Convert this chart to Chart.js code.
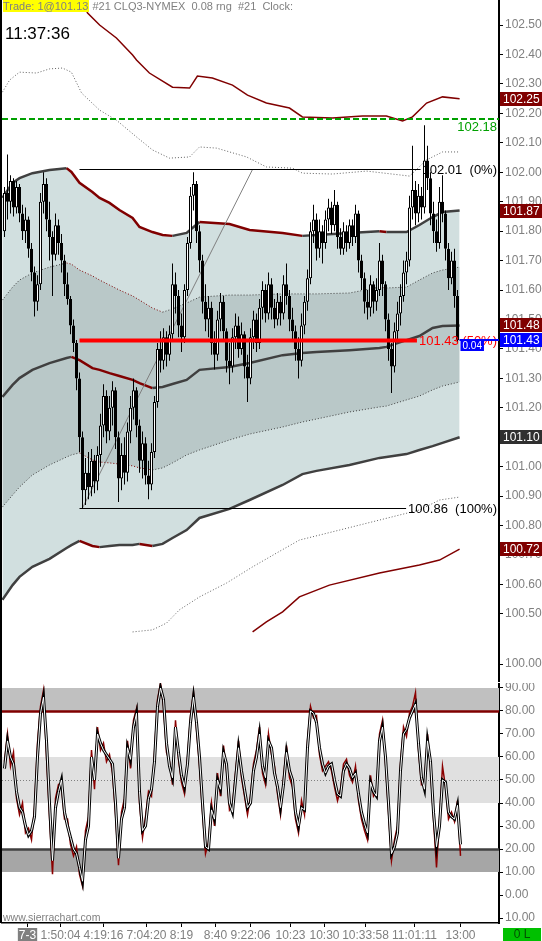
<!DOCTYPE html>
<html>
<head>
<meta charset="utf-8">
<script src="https://cdn.jsdelivr.net/npm/chart.js@4.4.0/dist/chart.umd.min.js"></script>
<style>
  html, body { margin: 0; padding: 0; background: #fff; }
  body { width: 542px; height: 941px; position: relative; overflow: hidden;
         font-family: "Liberation Sans", Arial, sans-serif; }
  #priceWrap { position: absolute; left: 0; top: 0; }
  #oscWrap { position: absolute; left: 0; top: 683px; }
  #leftEdge { position: absolute; left: 0; top: 0; width: 2px; height: 923px; background: #000; }
  #header { position: absolute; left: 3px; top: 0; font-size: 11px; line-height: 13px; color: #808080; white-space: pre; }
  #header .trade { background: #ffff00; padding-right: 1px; }
  #clock { position: absolute; left: 5px; top: 25px; font-size: 17px; line-height: 17px; color: #000; }
  #site { position: absolute; left: 3px; top: 911px; font-size: 10.5px; line-height: 12px; color: #808080; }
  #status { position: absolute; left: 503px; top: 928px; width: 38px; height: 13px; background: #00c000;
            color: #005000; font-size: 12px; line-height: 13px; text-align: center; }
</style>
</head>
<body>
<div id="priceWrap"><canvas id="price" width="542" height="682"></canvas></div>
<div id="oscWrap"><canvas id="osc" width="542" height="258"></canvas></div>
<div id="leftEdge"></div>
<div id="header"><span class="trade">Trade: 1@101.13</span> #21 CLQ3-NYMEX  0.08 rng  #21  Clock:</div>
<div id="clock">11:37:36</div>
<div id="site">www.sierrachart.com</div>
<div id="status">0 L</div>
<script>
// range bars, one per slot
const candleOpen = [
  101.80,101.93,101.90,101.97,101.88,101.95,101.86,101.80,101.84,101.74,101.66,101.56,101.62,101.90,101.96,101.84,
  101.78,101.72,101.82,101.76,101.70,101.62,101.57,101.48,101.42,101.30,101.10,100.92,100.98,100.93,101.02,100.95,
  101.04,101.14,101.24,101.12,101.20,101.26,101.10,100.96,101.04,100.98,101.12,101.20,101.26,101.14,101.02,101.08,
  100.97,100.94,101.05,101.22,101.40,101.36,101.44,101.38,101.45,101.62,101.58,101.48,101.44,101.60,101.76,101.92,
  101.96,101.80,101.70,101.56,101.50,101.54,101.42,101.38,101.50,101.56,101.46,101.36,101.34,101.44,101.48,101.40,
  101.45,101.34,101.30,101.44,101.50,101.42,101.54,101.60,101.52,101.62,101.54,101.50,101.56,101.52,101.62,101.58,
  101.50,101.46,101.40,101.36,101.48,101.56,101.64,101.80,101.84,101.74,101.80,101.76,101.84,101.88,101.82,101.89,
  101.78,101.74,101.80,101.76,101.82,101.78,101.86,101.70,101.64,101.56,101.54,101.62,101.56,101.60,101.70,101.62,
  101.50,101.40,101.34,101.46,101.52,101.58,101.66,101.70,101.88,101.94,101.86,101.92,101.88,102.04,101.98,101.86,
  101.80,101.76,101.90,101.86,101.74,101.64,101.70,101.58];
const candleHigh = [
  101.95,102.06,101.99,101.98,101.97,101.96,101.89,101.88,101.85,101.76,101.68,101.65,101.93,102.00,101.98,101.90,
  101.80,101.86,101.84,101.79,101.72,101.66,101.58,101.50,101.43,101.32,101.12,101.03,101.05,101.06,101.04,101.07,
  101.18,101.28,101.26,101.24,101.29,101.27,101.12,101.08,101.10,101.15,101.24,101.30,101.27,101.16,101.12,101.10,
  101.02,101.08,101.24,101.42,101.46,101.47,101.46,101.48,101.69,101.66,101.60,101.52,101.62,101.78,101.95,102.00,
  101.97,101.82,101.72,101.62,101.58,101.56,101.46,101.53,101.59,101.58,101.47,101.42,101.47,101.52,101.51,101.49,
  101.46,101.38,101.47,101.53,101.52,101.57,101.63,101.62,101.66,101.64,101.57,101.59,101.58,101.65,101.69,101.60,
  101.54,101.48,101.44,101.52,101.58,101.67,101.83,101.89,101.86,101.84,101.82,101.87,101.91,101.90,101.94,101.90,
  101.81,101.83,101.82,101.84,101.84,101.89,101.87,101.72,101.66,101.60,101.65,101.63,101.64,101.76,101.72,101.63,
  101.52,101.42,101.49,101.56,101.62,101.70,101.73,101.92,102.09,101.97,101.96,101.95,102.16,102.09,102.00,101.90,
  101.84,101.95,101.99,101.87,101.76,101.73,101.74,101.60];
const candleLow = [
  101.78,101.84,101.86,101.85,101.86,101.83,101.77,101.76,101.71,101.63,101.51,101.53,101.60,101.86,101.80,101.70,
  101.58,101.70,101.72,101.66,101.58,101.55,101.45,101.39,101.26,101.05,100.86,100.87,100.89,100.90,100.91,100.92,
  101.00,101.10,101.08,101.09,101.14,101.06,100.88,100.92,100.94,100.95,101.08,101.16,101.10,100.98,100.96,100.94,
  100.89,100.92,101.03,101.20,101.32,101.33,101.34,101.36,101.43,101.52,101.44,101.39,101.42,101.58,101.74,101.87,
  101.76,101.66,101.52,101.46,101.44,101.38,101.33,101.36,101.46,101.43,101.32,101.28,101.32,101.40,101.37,101.38,
  101.30,101.22,101.28,101.40,101.39,101.40,101.50,101.49,101.50,101.50,101.47,101.48,101.48,101.50,101.55,101.46,
  101.43,101.36,101.30,101.34,101.45,101.53,101.62,101.76,101.70,101.71,101.69,101.74,101.80,101.79,101.80,101.74,
  101.72,101.72,101.73,101.74,101.75,101.76,101.66,101.60,101.52,101.50,101.51,101.52,101.53,101.58,101.58,101.46,
  101.36,101.25,101.32,101.43,101.48,101.56,101.62,101.68,101.84,101.82,101.83,101.84,101.86,101.94,101.82,101.76,
  101.73,101.74,101.83,101.70,101.60,101.62,101.54,101.42];
const candleClose = [
  101.93,101.90,101.97,101.88,101.95,101.86,101.80,101.84,101.74,101.66,101.56,101.62,101.90,101.96,101.84,101.78,
  101.72,101.82,101.76,101.70,101.62,101.57,101.48,101.42,101.30,101.10,100.92,100.98,100.93,101.02,100.95,101.04,
  101.14,101.24,101.12,101.20,101.26,101.10,100.96,101.04,100.98,101.12,101.20,101.26,101.14,101.02,101.08,100.97,
  100.94,101.05,101.22,101.40,101.36,101.44,101.38,101.45,101.62,101.58,101.48,101.44,101.60,101.76,101.92,101.96,
  101.80,101.70,101.56,101.50,101.54,101.42,101.38,101.50,101.56,101.46,101.36,101.34,101.44,101.48,101.40,101.45,
  101.34,101.30,101.44,101.50,101.42,101.54,101.60,101.52,101.62,101.54,101.50,101.56,101.52,101.62,101.58,101.50,
  101.46,101.40,101.36,101.48,101.56,101.64,101.80,101.84,101.74,101.80,101.76,101.84,101.88,101.82,101.89,101.78,
  101.74,101.80,101.76,101.82,101.78,101.86,101.70,101.64,101.56,101.54,101.62,101.56,101.60,101.70,101.62,101.50,
  101.40,101.34,101.46,101.52,101.58,101.66,101.70,101.88,101.94,101.86,101.92,101.88,102.04,101.98,101.86,101.80,
  101.76,101.90,101.86,101.74,101.64,101.70,101.58,101.43];

// band lines sampled at bar index knots
const bandIdx = [-0.7,2.7,5,9.3,15,20.7,22.3,25,29.3,31.7,35,38.3,42.7,45,49.3,52.7,56,60.7,65,75,81.7,92.7,99.3,104,115,125,127.3,134,138.3,142.7,146,151.7];
const outerUpper = [101.913,101.964,101.980,101.997,102.008,102.014,102.001,101.964,101.933,101.913,101.896,101.872,101.845,101.814,101.797,101.787,101.784,101.794,101.831,101.824,101.804,101.794,101.784,101.787,101.794,101.800,101.797,101.797,101.821,101.848,101.865,101.87];
const innerUpper = [101.566,101.610,101.634,101.658,101.678,101.692,101.688,101.668,101.648,101.634,101.617,101.600,101.580,101.566,101.539,101.525,101.536,101.556,101.576,101.583,101.583,101.587,101.587,101.587,101.590,101.610,101.607,101.610,101.634,101.658,101.668,101.678];
const midLine = [101.237,101.278,101.301,101.329,101.352,101.369,101.373,101.362,101.335,101.329,101.318,101.308,101.295,101.284,101.267,101.271,101.281,101.295,101.329,101.339,101.352,101.379,101.386,101.390,101.396,101.403,101.407,101.430,101.444,101.471,101.478,101.48];
const innerLower = [100.863,100.904,100.931,100.972,101.006,101.033,101.040,101.047,101.023,101.016,101.013,101.009,101.003,100.996,100.989,100.996,101.013,101.040,101.057,101.091,101.111,101.135,101.152,101.162,101.186,101.203,101.206,101.227,101.240,101.261,101.274,101.288];
const outerLower = [100.548,100.598,100.626,100.660,100.687,100.724,100.734,100.748,100.731,100.727,100.731,100.734,100.734,100.738,100.731,100.738,100.758,100.785,100.826,100.857,100.887,100.938,100.975,100.986,101.006,101.030,101.033,101.043,101.057,101.070,101.081,101.10];

const band3UpperIdx = [-0.7,1.7,5,10.7,15,19.3,22.3,25.7,31.7,37.3,44,49.3,55,61.7,65,70.7,80.7,87.3,96,99.3,109.3,120.7,131.7,135,140.7,146,151.7];
const band3Upper = [102.272,102.313,102.340,102.337,102.351,102.354,102.340,102.269,102.211,102.177,102.120,102.076,102.048,102.052,102.086,102.082,102.052,102.018,102.014,101.997,101.994,102.004,101.991,101.987,102.042,102.069,102.069];
const band4UpperIdx = [25,27.7,31.7,37.3,42.7,44,48.3,56,61.7,64.3,69.3,76,81,87.3,95,99.3,109.3,119.3,127.3,132.7,136,140.7,146,151.7];
const band4Upper = [102.602,102.541,102.500,102.456,102.398,102.381,102.337,102.289,102.286,102.327,102.320,102.296,102.262,102.235,102.218,102.188,102.184,102.191,102.191,102.174,102.188,102.235,102.256,102.25];
const band3LowerIdx = [42.7,49.3,54,58.3,65,74,82.7,90.7,98.3,111.7,125,138.3,145,151.7];
const band3Lower = [100.439,100.446,100.469,100.514,100.558,100.605,100.660,100.707,100.751,100.785,100.819,100.853,100.887,100.897];
const band4LowerIdx = [82.7,87.3,92.7,98.3,108.3,125,138.3,145,151.7];
const band4Lower = [100.439,100.473,100.507,100.558,100.598,100.639,100.666,100.683,100.72];

// retracement drawing
const fibStartIdx = 25;
const fibLevels = [102.01, 101.43, 100.86];
const fibLabels = ['102.01  (0%)', '101.43 (50%)', '100.86  (100%)'];
const fibDiagIdx = [26, 82.7];
const fibDiagVal = [100.86, 102.01];
const greenLevel = 102.18;
const lastChange = '0.04';

const priceTickValues = [102.5,102.4,102.3,102.2,102.1,102.0,101.9,101.8,101.7,101.6,101.5,101.4,101.3,101.2,101.1,101.0,100.9,100.8,100.7,100.6,100.5,100.33];
const priceTickLabels = ['102.50','102.40','102.30','102.20','102.10','102.00','101.90','101.80','101.70','101.60','101.50','101.40','101.30','101.20','101.10','101.00','100.90','100.80','100.70','100.60','100.50','100.00'];

// oscillator
const oscK = [
  55,67,60,57,45,38,36,30,26,28,34,60,79,86,67,40,
  15,38,45,50,36,30,25,20,18,12,6,24,30,60,50,70,
  66,63,61,59,57,40,16,33,38,64,59,73,79,45,28,30,
  42,46,58,82,90,85,66,56,51,73,62,52,47,57,75,86,
  75,60,40,21,20,37,33,50,46,62,57,40,36,50,64,54,
  46,38,40,54,60,70,56,51,67,64,53,47,38,48,62,54,
  50,36,30,38,37,64,80,79,75,64,57,53,56,57,50,44,
  43,54,57,55,51,53,44,36,31,27,49,45,43,67,73,60,
  40,18,21,27,54,70,72,77,80,83,66,51,46,67,58,36,
  21,30,50,49,36,34,33,39,22];
const oscD = [
  58,70,56,62,42,35,40,27,29,24,38,66,82,89,60,34,
  9,42,48,47,33,33,22,17,21,9,4,28,34,63,46,73,
  63,66,58,61,53,35,13,36,42,67,55,76,81,40,25,34,
  45,43,62,85,92,82,62,58,48,76,59,49,44,60,78,88,
  72,56,36,18,23,40,30,53,43,65,54,37,39,53,67,51,
  43,35,43,57,63,73,53,48,70,61,56,44,35,51,65,51,
  47,33,27,41,35,67,82,77,78,61,54,56,58,54,47,41,
  46,57,59,52,49,56,41,33,28,24,52,43,45,70,76,57,
  36,15,24,30,57,73,69,79,82,88,63,48,49,70,55,33,
  12,33,56,47,33,36,32,41,17];
const oscZoneLow = [80, 40, 10];
const oscZoneHigh = [90, 60, 20];
const oscLevels = [80, 50, 20];
const oscTickValues = [90,80,70,60,50,40,30,20,10,0,-10];
const oscTickLabels = ['90.00','80.00','70.00','60.00','50.00','40.00','30.00','20.00','10.00','0.00','10.00'];

const timeTickIdx = [7.67, 18.67, 33, 47.33, 59, 70.33, 82, 95.33, 106.67, 120.33, 136.67, 152];
const timeLabels = ['7-3','1:50:04','4:19:16','7:04:20','8:19','8:40','9:22:06','10:23','10:30','10:33:58','11:01:11','13:00'];

// ---------------------------------------------------------------
const FONT = '"Liberation Sans", Arial, sans-serif';
const MAROON = '#800000';
const DARK = '#404040';
const xMin = -5 / 6;
const xMax = xMin + 497 / 3;

Chart.defaults.font.family = FONT;
Chart.defaults.font.size = 12;
Chart.defaults.elements.point.radius = 0;

const pts = (xs, ys) => ys.map((v, i) => ({ x: xs[i], y: v }));
const slopeColor = ctx => (ctx.p1.parsed.y < ctx.p0.parsed.y ? MAROON : DARK);
const last = a => a[a.length - 1];
// keep the chart area free of the label padding chart.js adds by default
const noPad = s => { s.paddingTop = 0; s.paddingBottom = 0; s.paddingLeft = 0; s.paddingRight = 0; };

const priceOverlay = {
  id: 'priceOverlay',
  afterDatasetsDraw(chart) {
    const { ctx, chartArea: a, scales: { x, y } } = chart;
    ctx.save();
    ctx.beginPath();
    ctx.rect(a.left, a.top, a.width, a.height);
    ctx.clip();

    // retracement levels
    ctx.font = '13px ' + FONT;
    ctx.textBaseline = 'middle';
    ctx.textAlign = 'right';
    const colors = ['#000', '#ff0000', '#000'];
    const widths = [1, 4, 1];
    const x0 = x.getPixelForValue(fibStartIdx);
    fibLevels.forEach((v, k) => {
      const py = Math.round(y.getPixelForValue(v)) + 0.5;
      const tx = a.right - 2;
      const w = ctx.measureText(fibLabels[k]).width;
      ctx.strokeStyle = colors[k];
      ctx.lineWidth = widths[k];
      ctx.beginPath();
      ctx.moveTo(x0, py);
      ctx.lineTo(tx - w - 2, py);
      ctx.stroke();
      ctx.fillStyle = colors[k];
      ctx.fillText(fibLabels[k], tx, py + 1);
    });

    // green dashed level
    const gy = Math.round(y.getPixelForValue(greenLevel));
    ctx.strokeStyle = '#00a000';
    ctx.lineWidth = 2;
    ctx.setLineDash([6, 3]);
    ctx.beginPath();
    ctx.moveTo(a.left, gy);
    ctx.lineTo(a.right, gy);
    ctx.stroke();
    ctx.setLineDash([]);
    ctx.fillStyle = '#00a000';
    ctx.fillText(greenLevel.toFixed(2), a.right - 2, gy + 8);

    // last price line and change box
    const ly = Math.round(y.getPixelForValue(last(candleClose)));
    const lx = x.getPixelForValue(candleClose.length - 1) + 2;
    ctx.strokeStyle = '#0000ff';
    ctx.lineWidth = 2;
    ctx.beginPath();
    ctx.moveTo(lx, ly);
    ctx.lineTo(a.right, ly);
    ctx.stroke();
    ctx.font = '10px ' + FONT;
    ctx.textAlign = 'left';
    const cw = ctx.measureText(lastChange).width;
    ctx.fillStyle = '#0000ff';
    ctx.fillRect(lx + 1, ly + 1, cw + 4, 10);
    ctx.fillStyle = '#fff';
    ctx.fillText(lastChange, lx + 3, ly + 6);
    ctx.restore();
  },
  afterDraw(chart) {
    const { ctx, chartArea: a, scales: { y } } = chart;
    const markers = [
      { v: last(band4Upper), bg: MAROON },
      { v: last(outerUpper), bg: MAROON },
      { v: last(midLine), bg: MAROON },
      { v: last(candleClose), bg: '#0000ff' },
      { v: last(outerLower), bg: '#303030' },
      { v: last(band4Lower), bg: MAROON }
    ];
    ctx.save();
    ctx.font = '12px ' + FONT;
    ctx.textBaseline = 'middle';
    ctx.textAlign = 'left';
    markers.forEach(m => {
      const py = Math.round(y.getPixelForValue(m.v));
      ctx.fillStyle = m.bg;
      ctx.fillRect(a.right + 1, py - 7, chart.width - a.right, 14);
      ctx.fillStyle = '#fff';
      ctx.fillText(m.v.toFixed(2), a.right + 4, py + 1);
    });
    ctx.restore();
  }
};

new Chart(document.getElementById('price'), {
  type: 'line',
  data: {
    datasets: [
      { type: 'bar', order: 0, grouped: false, barThickness: 3, maxBarThickness: 3, inflateAmount: 0,
        data: candleOpen.map((o, i) => ({ x: i, y: [o, candleClose[i]] })),
        backgroundColor: c => (candleClose[c.dataIndex] >= candleOpen[c.dataIndex] ? '#ffffff' : '#000000'),
        borderColor: '#000', borderWidth: 1, borderSkipped: false },
      { type: 'bar', order: 1, grouped: false, barThickness: 1, maxBarThickness: 1, inflateAmount: 0,
        data: candleLow.map((l, i) => ({ x: i, y: [l, candleHigh[i]] })),
        backgroundColor: '#000', borderWidth: 0 },
      { order: 2, data: pts(fibDiagIdx, fibDiagVal), borderColor: '#808080', borderWidth: 1 },
      { order: 3, data: pts(band4UpperIdx, band4Upper), borderColor: MAROON, borderWidth: 1.5 },
      { order: 3, data: pts(band3UpperIdx, band3Upper), borderColor: '#606060', borderWidth: 1, borderDash: [1, 2] },
      { order: 3, data: pts(band3LowerIdx, band3Lower), borderColor: '#606060', borderWidth: 1, borderDash: [1, 2] },
      { order: 3, data: pts(band4LowerIdx, band4Lower), borderColor: MAROON, borderWidth: 1.5 },
      { order: 3, data: pts(bandIdx, midLine), borderWidth: 2.5, segment: { borderColor: slopeColor } },
      { order: 4, data: pts(bandIdx, innerUpper), borderWidth: 1, borderDash: [1, 2], segment: { borderColor: slopeColor } },
      { order: 4, data: pts(bandIdx, innerLower), borderWidth: 1, borderDash: [1, 2], segment: { borderColor: slopeColor } },
      { order: 5, data: pts(bandIdx, outerUpper), borderWidth: 2.5, segment: { borderColor: slopeColor } },
      { order: 5, data: pts(bandIdx, outerLower), borderWidth: 2.5, segment: { borderColor: slopeColor } },
      // fills only
      { order: 6, data: pts(bandIdx, innerUpper), borderWidth: 0, fill: 13, backgroundColor: '#b9c8c8' },
      { order: 6, data: pts(bandIdx, innerLower), borderWidth: 0 },
      { order: 7, data: pts(bandIdx, outerUpper), borderWidth: 0, fill: 15, backgroundColor: '#d1dfdf' },
      { order: 7, data: pts(bandIdx, outerLower), borderWidth: 0 }
    ]
  },
  options: {
    responsive: false,
    animation: false,
    devicePixelRatio: 1,
    layout: { padding: { left: 2, right: 0, top: 0, bottom: 0 } },
    plugins: { legend: { display: false }, tooltip: { enabled: false }, filler: { drawTime: 'beforeDatasetsDraw' } },
    scales: {
      x: { type: 'linear', min: xMin, max: xMax, offset: false, display: false },
      y: {
        position: 'right', min: 100.269, max: 102.585,
        afterFit: s => { s.width = 43; noPad(s); },
        afterBuildTicks: s => { s.ticks = priceTickValues.map(v => ({ value: v })); },
        ticks: { autoSkip: false, callback: (v, i) => priceTickLabels[i], color: '#808080', padding: 2 },
        grid: { drawOnChartArea: false, drawTicks: true, tickLength: 4, color: '#000' },
        border: { display: true, color: '#000', width: 2 }
      }
    }
  },
  plugins: [priceOverlay]
});

const oscBands = {
  id: 'oscBands',
  beforeDatasetsDraw(chart) {
    const { ctx, chartArea: a, scales: { y } } = chart;
    const zoneColors = ['#c0c0c0', '#e0e0e0', '#a6a6a6'];
    ctx.save();
    oscZoneLow.forEach((lo, k) => {
      const t = y.getPixelForValue(oscZoneHigh[k]);
      const b = y.getPixelForValue(lo);
      ctx.fillStyle = zoneColors[k];
      ctx.fillRect(a.left, t, a.width, b - t);
    });
    const lineColors = [MAROON, '#808080', DARK];
    const lineWidths = [2.5, 1, 2.5];
    oscLevels.forEach((v, k) => {
      const py = Math.round(y.getPixelForValue(v));
      ctx.strokeStyle = lineColors[k];
      ctx.lineWidth = lineWidths[k];
      ctx.setLineDash(k === 1 ? [1, 2] : []);
      ctx.beginPath();
      ctx.moveTo(a.left, py + 0.5);
      ctx.lineTo(a.right, py + 0.5);
      ctx.stroke();
    });
    ctx.restore();
  }
};

const oscPts = arr => arr.map((v, i) => ({ x: i, y: v }));

new Chart(document.getElementById('osc'), {
  type: 'line',
  data: {
    datasets: [
      { order: 0, data: oscPts(oscK), borderColor: '#ffffff', borderWidth: 1 },
      { order: 1, data: oscPts(oscK), borderColor: '#000000', borderWidth: 3 },
      { order: 2, data: oscPts(oscD), borderColor: '#8b0000', borderWidth: 1.5 }
    ]
  },
  options: {
    responsive: false,
    animation: false,
    devicePixelRatio: 1,
    layout: { padding: { left: 2, right: 0, top: 0, bottom: 0 } },
    plugins: { legend: { display: false }, tooltip: { enabled: false } },
    scales: {
      x: {
        type: 'linear', position: 'bottom', min: xMin, max: xMax, offset: false,
        afterFit: s => { s.height = 18; noPad(s); },
        afterBuildTicks: s => { s.ticks = timeTickIdx.map(v => ({ value: v })); },
        ticks: {
          autoSkip: false, maxRotation: 0, padding: 1,
          callback: (v, i) => timeLabels[i],
          color: c => (c.index === 0 ? '#ffffff' : '#808080'),
          showLabelBackdrop: c => c.index === 0,
          backdropColor: '#808080',
          backdropPadding: { x: 1, y: 0 }
        },
        grid: { drawOnChartArea: false, drawTicks: true, tickLength: 4, color: '#000' },
        border: { display: true, color: '#000', width: 1.5 }
      },
      y: {
        position: 'right', min: -12.17, max: 92.17,
        afterFit: s => { s.width = 43; noPad(s); },
        afterBuildTicks: s => { s.ticks = oscTickValues.map(v => ({ value: v })); },
        ticks: { autoSkip: false, callback: (v, i) => oscTickLabels[i], color: '#808080', padding: 2 },
        grid: { drawOnChartArea: false, drawTicks: true, tickLength: 4, color: '#000' },
        border: { display: true, color: '#000', width: 2 }
      }
    }
  },
  plugins: [oscBands]
});
</script>
</body>
</html>
